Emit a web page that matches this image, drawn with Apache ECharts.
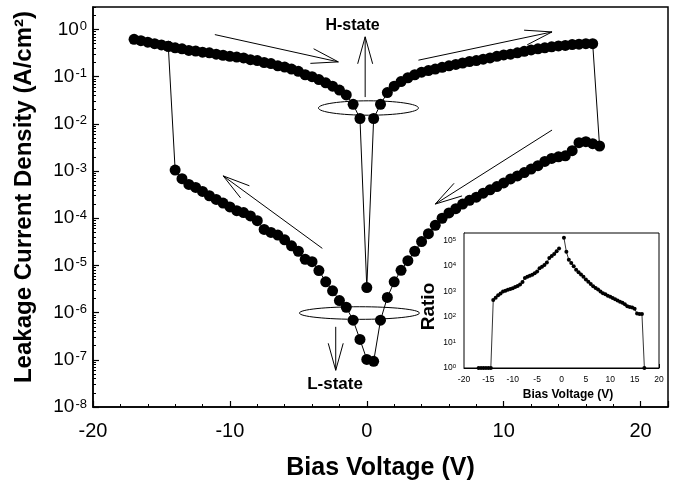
<!DOCTYPE html>
<html>
<head>
<meta charset="utf-8">
<script src="https://cdn.jsdelivr.net/npm/echarts@6/dist/echarts.min.js"></script>
<style>html,body{margin:0;padding:0;background:#fff}#c{width:673px;height:487px}</style>
</head>
<body>
<div id="c"></div>
<script>
// ---- Forward sweep (-17 V -> +16.5 V), H-state branch, A/cm^2
const upVolts = [-17,-16.5,-16,-15.5,-15,-14.5,-14,-13.5,-13,-12.5,-12,-11.5,-11,-10.5,-10,-9.5,-9,-8.5,-8,-7.5,-7,-6.5,-6,-5.5,-5,-4.5,-4,-3.5,-3,-2.5,-2,-1.5,-1,-0.5,0,0.5,1,1.5,2,2.5,3,3.5,4,4.5,5,5.5,6,6.5,7,7.5,8,8.5,9,9.5,10,10.5,11,11.5,12,12.5,13,13.5,14,14.5,15,15.5,16,16.5];
const upJ = [0.62,0.58,0.54,0.50,0.47,0.44,0.41,0.39,0.36,0.35,0.33,0.32,0.30,0.285,0.27,0.26,0.25,0.23,0.22,0.20,0.19,0.17,0.16,0.145,0.13,0.11,0.10,0.087,0.074,0.063,0.052,0.041,0.026,0.013,3.4e-6,0.013,0.026,0.046,0.063,0.079,0.095,0.11,0.125,0.135,0.145,0.158,0.17,0.182,0.195,0.21,0.22,0.235,0.25,0.27,0.29,0.30,0.32,0.345,0.37,0.39,0.41,0.43,0.45,0.46,0.48,0.49,0.50,0.50];

// ---- Reverse sweep (+17 V -> -14 V), L-state branch, then switch back to H at -14.5 V
const downVolts = [17,16.5,16,15.5,15,14.5,14,13.5,13,12.5,12,11.5,11,10.5,10,9.5,9,8.5,8,7.5,7,6.5,6,5.5,5,4.5,4,3.5,3,2.5,2,1.5,1,0.5,0,-0.5,-1,-1.5,-2,-2.5,-3,-3.5,-4,-4.5,-5,-5.5,-6,-6.5,-7,-7.5,-8,-8.5,-9,-9.5,-10,-10.5,-11,-11.5,-12,-12.5,-13,-13.5,-14,-14.5];
const downJ = [3.4e-3,3.8e-3,4.2e-3,4.0e-3,2.7e-3,2.1e-3,2.0e-3,1.85e-3,1.6e-3,1.3e-3,1.1e-3,9.3e-4,7.9e-4,6.8e-4,5.6e-4,4.7e-4,4.0e-4,3.4e-4,2.8e-4,2.4e-4,2.0e-4,1.6e-4,1.3e-4,1.0e-4,7.1e-5,4.7e-5,3.2e-5,2.0e-5,1.26e-5,7.9e-6,4.5e-6,2.1e-6,6.9e-7,9.3e-8,1.02e-7,2.7e-7,6.9e-7,1.3e-6,1.8e-6,2.9e-6,4.5e-6,7.8e-6,1.2e-5,1.35e-5,2.0e-5,2.6e-5,3.5e-5,4.4e-5,5.0e-5,5.8e-5,8.9e-5,1.12e-4,1.32e-4,1.45e-4,1.74e-4,2.1e-4,2.5e-4,3.0e-4,3.7e-4,4.5e-4,5.2e-4,6.9e-4,1.05e-3,0.44];

// ---- Inset: on/off ratio
const ratioVolts = [-17,-16.5,-16,-15.5,-15,-14.5,-14,-13.5,-13,-12.5,-12,-11.5,-11,-10.5,-10,-9.5,-9,-8.5,-8,-7.5,-7,-6.5,-6,-5.5,-5,-4.5,-4,-3.5,-3,-2.5,-2,-1.5,-1,-0.5,0,0.5,1,1.5,2,2.5,3,3.5,4,4.5,5,5.5,6,6.5,7,7.5,8,8.5,9,9.5,10,10.5,11,11.5,12,12.5,13,13.5,14,14.5,15,15.5,16,16.5,17];
const ratioVals = [1,1,1,1,1,1,470,575,720,850,1000,1070,1180,1260,1350,1510,1660,1900,2400,3390,3800,4170,4570,5250,6170,8320,9550,11000,13800,20900,25100,30200,38000,49000,null,129000,36300,17800,13200,10000,7240,5750,4680,3800,3020,2450,2000,1620,1380,1200,1020,870,780,690,630,560,500,450,400,363,316,263,250,240,210,138,132,132,1];

// ---- tick labels
const mainXTicks = [-20,-10,0,10,20];
const insetXTicks = [-20,-15,-10,-5,0,5,10,15,20];

const FONT = '"Liberation Sans", Arial, Helvetica, sans-serif';

function logMinor(e0, e1, top) {
  const out = [];
  for (let e = e0; e <= e1; e++) {
    for (let m = 2; m <= 9; m++) {
      const v = m * Math.pow(10, e);
      if (v <= top) out.push(v);
    }
  }
  return out;
}
function supFmt(v) {
  const l = Math.log10(v);
  const e = Math.round(l);
  if (Math.abs(l - e) > 0.01) return '';
  return '{b|10}{s|' + e + '}';
}

const mainData = upVolts.map((v, i) => [v, upJ[i]]).concat(downVolts.map((v, i) => [v, downJ[i]]));
const insetData = ratioVolts.map((v, i) => [v, ratioVals[i] === null ? '-' : ratioVals[i]]);

const black = '#000';
const chart = echarts.init(document.getElementById('c'), null, {renderer: 'canvas'});
const option = {
  animation: false,
  backgroundColor: '#fff',
  textStyle: {fontFamily: FONT},
  grid: [
    {left: 93, top: 7, right: 5, bottom: 80, show: true, borderColor: black, borderWidth: 1.5, backgroundColor: 'transparent'},
    {left: 464, top: 233, right: 14, bottom: 119, show: true, borderColor: black, borderWidth: 1, backgroundColor: '#fff', z: 5}
  ],
  xAxis: [
    {
      gridIndex: 0, type: 'value', min: -20, max: 22, interval: 10,
      axisLine: {onZero: false, lineStyle: {color: black, width: 1.5}},
      axisTick: {inside: true, length: 6, lineStyle: {color: black, width: 1.2}},
      minorTick: {show: true, splitNumber: 5, length: 3, lineStyle: {color: black, width: 1}},
      splitLine: {show: false},
      axisLabel: {showMaxLabel: false, color: black, fontSize: 20, fontFamily: FONT, margin: 14,
        formatter: v => mainXTicks.indexOf(v) >= 0 ? String(v) : ''},
      name: 'Bias Voltage (V)', nameLocation: 'middle', nameGap: 49,
      nameTextStyle: {fontSize: 25, fontWeight: 'bold', color: black, fontFamily: FONT}
    },
    {
      gridIndex: 1, type: 'value', min: -20, max: 20, interval: 5,
      axisLine: {onZero: false, lineStyle: {color: black, width: 1}},
      axisTick: {inside: true, length: 4, lineStyle: {color: black, width: 1}},
      minorTick: {show: true, splitNumber: 5, length: 2, lineStyle: {color: black, width: 0.8}},
      splitLine: {show: false},
      axisLabel: {color: black, fontSize: 8.5, fontFamily: FONT, margin: 7,
        formatter: v => insetXTicks.indexOf(v) >= 0 ? String(v) : ''},
      name: 'Bias Voltage (V)', nameLocation: 'middle', nameGap: 21,
      nameTextStyle: {fontSize: 12, fontWeight: 'bold', color: black, fontFamily: FONT, padding: [0, 0, 0, 13]}
    }
  ],
  yAxis: [
    {
      gridIndex: 0, type: 'log', logBase: 10, min: 1e-8, max: 3,
      axisLine: {onZero: false, lineStyle: {color: black, width: 1.5}},
      axisTick: {inside: true, length: 6, lineStyle: {color: black, width: 1.2}},
      splitLine: {show: false},
      axisLabel: {showMaxLabel: false, margin: 6, formatter: supFmt, color: black,
        rich: {b: {fontSize: 19, fontFamily: FONT, color: black},
               s: {fontSize: 13, fontFamily: FONT, color: black, verticalAlign: 'top', padding: [0, 0, 0, 1]}}},
      name: 'Leakage Current Density (A/cm²)', nameLocation: 'middle', nameGap: 57,
      nameTextStyle: {fontSize: 24, fontWeight: 'bold', color: black, fontFamily: FONT, padding: [0, 0, 0, 20]}
    },
    {
      gridIndex: 0, type: 'log', logBase: 10, min: 1e-8, max: 3, position: 'left',
      axisLine: {show: false, onZero: false}, axisLabel: {show: false}, splitLine: {show: false},
      axisTick: {show: true, inside: true, length: 3, lineStyle: {color: black, width: 1},
        customValues: logMinor(-8, 0, 3)}
    },
    {
      gridIndex: 1, type: 'log', logBase: 10, min: 1, max: 2e5,
      axisLine: {onZero: false, lineStyle: {color: black, width: 1}},
      axisTick: {inside: true, length: 4, lineStyle: {color: black, width: 1}},
      splitLine: {show: false},
      axisLabel: {showMaxLabel: false, margin: 8, formatter: supFmt, color: black,
        rich: {b: {fontSize: 8.5, fontFamily: FONT, color: black},
               s: {fontSize: 6, fontFamily: FONT, color: black, verticalAlign: 'top'}}},
      name: 'Ratio', nameLocation: 'middle', nameGap: 26,
      nameTextStyle: {fontSize: 19, fontWeight: 'bold', color: black, fontFamily: FONT, padding: [0, 12, 0, 0]}
    },
    {
      gridIndex: 1, type: 'log', logBase: 10, min: 1, max: 2e5, position: 'left',
      axisLine: {show: false, onZero: false}, axisLabel: {show: false}, splitLine: {show: false},
      axisTick: {show: true, inside: true, length: 2, lineStyle: {color: black, width: 0.8},
        customValues: logMinor(0, 5, 2e5)}
    }
  ],
  series: [
    {
      type: 'line', xAxisIndex: 0, yAxisIndex: 0, data: mainData,
      symbol: 'circle', symbolSize: 11, showAllSymbol: true,
      itemStyle: {color: black}, lineStyle: {color: black, width: 1}, z: 3
    },
    {
      type: 'line', xAxisIndex: 1, yAxisIndex: 2, data: insetData,
      symbol: 'circle', symbolSize: 4, showAllSymbol: true, connectNulls: false,
      itemStyle: {color: black}, lineStyle: {color: black, width: 0.8}, z: 6
    }
  ]
};
chart.setOption(option);

// ---- annotations in data coordinates: [x0, J0, x1, J1] (arrow tip at x1,J1)
const arrows = [
  [-11.1, 0.78, -2.08, 0.206],
  [-0.12, 0.037, -0.12, 0.70],
  [3.77, 0.224, 13.53, 0.889],
  [13.53, 7.4e-3, 5.0, 2.0e-4],
  [-3.25, 2.3e-5, -10.49, 7.9e-4],
  [-2.27, 5.0e-7, -2.27, 6.0e-8]
];
const ellipses = [[0.12, 0.0217, 50, 7.2], [-0.54, 9.8e-7, 60, 6.3]];
const notes = [['H-state', -1.04, 1.23, 16], ['L-state', -2.32, 3.05e-8, 17]];

const toPx = p => chart.convertToPixel({xAxisIndex: 0, yAxisIndex: 0}, p);
const g = [];
arrows.forEach(a => {
  const p0 = toPx([a[0], a[1]]), p1 = toPx([a[2], a[3]]);
  const ang = Math.atan2(p1[1] - p0[1], p1[0] - p0[0]);
  const L = 28, h = 15.5 * Math.PI / 180;
  const w1 = [p1[0] - L * Math.cos(ang - h), p1[1] - L * Math.sin(ang - h)];
  const w2 = [p1[0] - L * Math.cos(ang + h), p1[1] - L * Math.sin(ang + h)];
  g.push({type: 'polyline', shape: {points: [p0, p1]}, style: {stroke: black, lineWidth: 1, fill: 'none'}, z: 10});
  g.push({type: 'polyline', shape: {points: [w1, p1, w2]}, style: {stroke: black, lineWidth: 1, fill: 'none'}, z: 10});
});
ellipses.forEach(e => {
  const c = toPx([e[0], e[1]]);
  g.push({type: 'ellipse', shape: {cx: c[0], cy: c[1], rx: e[2], ry: e[3]}, style: {stroke: black, lineWidth: 1, fill: 'none'}, z: 1});
});
notes.forEach(n => {
  const c = toPx([n[1], n[2]]);
  g.push({type: 'text', x: c[0], y: c[1], z: 10,
    style: {text: n[0], font: 'bold ' + n[3] + 'px ' + FONT, fill: black,
      align: 'center', verticalAlign: 'middle', textAlign: 'center', textVerticalAlign: 'middle'}});
});
chart.setOption({graphic: g});
</script>
</body>
</html>
